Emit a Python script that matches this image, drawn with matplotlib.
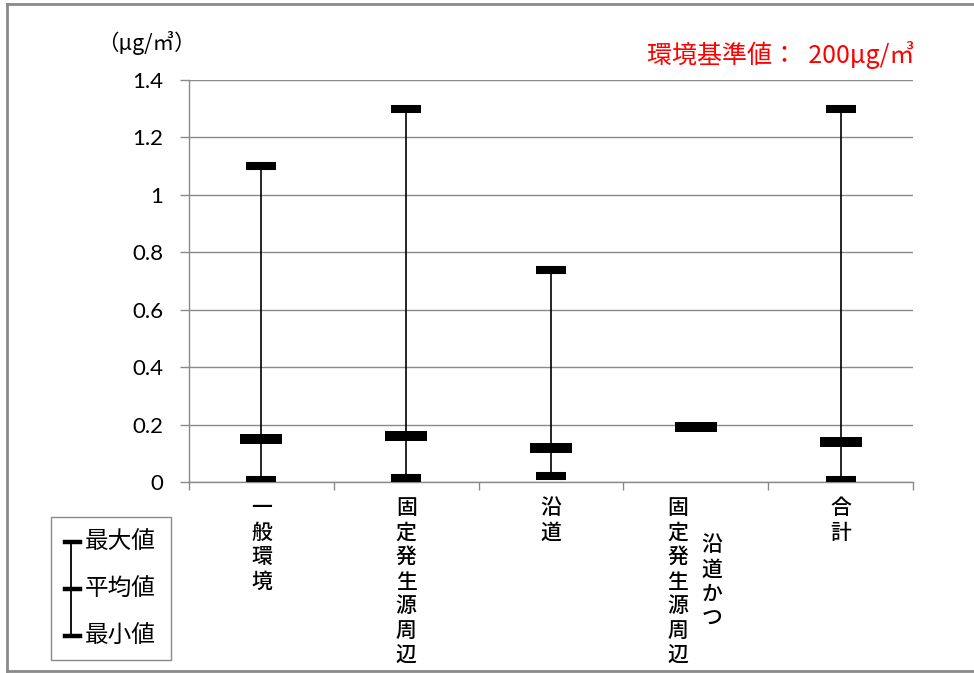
import matplotlib
matplotlib.use("Agg")
from matplotlib import pyplot as plt
from matplotlib.lines import Line2D
from matplotlib.patches import Rectangle
from matplotlib.transforms import blended_transform_factory

plt.rcParams['font.family'] = ['Noto Sans CJK JP', 'DejaVu Sans']

# 測定結果（μg/㎥）
categories = ["一般環境", "固定発生源周辺", "沿道", "沿道かつ固定発生源周辺", "合計"]
max_vals = [1.10, 1.30, 0.74, 0.19, 1.30]
mean_vals = [0.15, 0.16, 0.12, 0.19, 0.14]
min_vals = [0.007, 0.015, 0.02, 0.19, 0.007]
yticks = [0, 0.2, 0.4, 0.6, 0.8, 1.0, 1.2, 1.4]
ytick_labels = ["0", "0.2", "0.4", "0.6", "0.8", "1", "1.2", "1.4"]

W, H = 974, 673
GRAY = "#8a8a8a"


def px(x, y):
    return x / W, 1 - y / H


fig = plt.figure(figsize=(W / 100, H / 100), dpi=100)
l, b = px(189, 482)
r, t = px(913, 80)
ax = fig.add_axes([l, b, r - l, t - b])

xs = list(range(len(categories)))

# 最小〜最大の縦線
ax.vlines(xs, min_vals, max_vals, colors="black", lw=1.2, zorder=3)
# 最大値・最小値のマーカー
ax.hlines(max_vals, [x - 0.104 for x in xs], [x + 0.104 for x in xs], colors="black", lw=5.8, zorder=4)
ax.hlines(min_vals, [x - 0.104 for x in xs], [x + 0.104 for x in xs], colors="black", lw=5.8, zorder=4)
# 平均値のマーカー
ax.hlines(mean_vals, [x - 0.145 for x in xs], [x + 0.145 for x in xs], colors="black", lw=7.2, zorder=5)

ax.set_xlim(-0.5, len(categories) - 0.5)
ax.set_ylim(0, 1.4)
ax.set_yticks(yticks)
ax.set_yticklabels(ytick_labels, family="Lato", fontsize=16)
ax.set_xticks([x - 0.5 for x in xs] + [len(xs) - 0.5])
ax.set_xticklabels([])
ax.tick_params(axis="y", direction="out", length=6.5, width=1, color=GRAY, pad=12)
ax.tick_params(axis="x", direction="out", length=6, width=1, color=GRAY)
ax.grid(axis="y", color=GRAY, lw=1.0)
ax.set_axisbelow(True)
for side in ("top", "right"):
    ax.spines[side].set_visible(False)
for side in ("left", "bottom"):
    ax.spines[side].set_color(GRAY)
    ax.spines[side].set_linewidth(1.0)

# 縦書きの項目名
tr = blended_transform_factory(ax.transData, fig.transFigure)


def vtext(x, y_top, s, dx=0.0):
    for i, ch in enumerate(s):
        fig.text(0, 0, ch, fontsize=15, ha="center", va="center", weight="medium",
                 transform=tr).set_position((x + dx, 1 - (y_top + i * 24.6) / H))


vtext(0, 508, "一般環境")
vtext(1, 508, "固定発生源周辺")
vtext(2, 508, "沿道")
vtext(3, 508, "固定発生源周辺", dx=-0.125)
vtext(3, 545, "沿道かつ", dx=0.11)
vtext(4, 508, "合計")

# 単位と環境基準値
fig.text(*px(146, 43), "（μg/㎥）", fontsize=15.5, ha="center", va="center")
fig.text(*px(914, 55), "環境基準値：  200μg/㎥", fontsize=18, ha="right", va="center", color="#ff0000")

# 凡例
x0, y0 = px(51, 660)
x1, y1 = px(171, 517)
fig.add_artist(Rectangle((x0, y0), x1 - x0, y1 - y0, transform=fig.transFigure,
                         fill=False, edgecolor=GRAY, lw=1.0))
fig.add_artist(Line2D(*zip(px(71, 542), px(71, 636)), transform=fig.transFigure, color="black", lw=1.3))
for yy, label in zip([542, 589, 636], ["最大値", "平均値", "最小値"]):
    fig.add_artist(Line2D(*zip(px(65, yy), px(80, yy)), transform=fig.transFigure, color="black", lw=3.2))
    fig.text(*px(85, yy), label, fontsize=17, ha="left", va="center")

# 外枠
for p, q in [((7, 4), (W, 4)), ((7, 4), (7, 671)), ((7, 671), (W, 671))]:
    fig.add_artist(Line2D(*zip(px(*p), px(*q)), transform=fig.transFigure, color=GRAY, lw=2.0))

fig.savefig("out.png", dpi=100)
